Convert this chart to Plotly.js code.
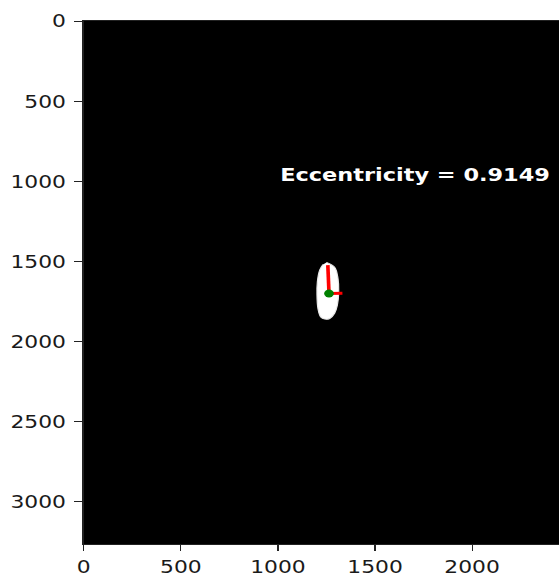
<!DOCTYPE html>
<html>
<head>
<meta charset="utf-8">
<script src="https://cdn.plot.ly/plotly-3.0.1.min.js"></script>
<style>
  html, body { margin: 0; padding: 0; background: #fff; overflow: hidden; }
  #plot { width: 461px; height: 573px; transform: scaleX(1.2126); transform-origin: 0 0; }
</style>
</head>
<body>
<div id="plot"></div>
<script>
// Image size (pixels)
const imgWidth = 2448;
const imgHeight = 3264;

// Blob contour (image pixel coordinates)
const blobX = [1250, 1292, 1309, 1313, 1306, 1292, 1267, 1241, 1220, 1206, 1201, 1203, 1215, 1232];
const blobY = [1506, 1536, 1604, 1690, 1773, 1823, 1856, 1860, 1846, 1793, 1710, 1627, 1554, 1519];

// Centroid
const centroidX = [1263];
const centroidY = [1700];

// Axis segments from centroid
const majorAxisX = [1263, 1257];
const majorAxisY = [1700, 1523];
const minorAxisX = [1263, 1332];
const minorAxisY = [1700, 1698];

// Label
const labelText = "Eccentricity = 0.9149";
const labelX = 1000;
const labelY = 1000;

// Ticks
const xTicks = [0, 500, 1000, 1500, 2000];
const yTicks = [0, 500, 1000, 1500, 2000, 2500, 3000];

const traces = [
  {
    x: blobX, y: blobY, type: 'scatter', mode: 'lines',
    fill: 'toself', fillcolor: '#ffffff',
    line: { color: '#e8e8e8', width: 1, shape: 'spline' },
    hoverinfo: 'skip'
  },
  {
    x: majorAxisX, y: majorAxisY, type: 'scatter', mode: 'lines',
    line: { color: '#ff0000', width: 3 }, hoverinfo: 'skip'
  },
  {
    x: minorAxisX, y: minorAxisY, type: 'scatter', mode: 'lines',
    line: { color: '#ff0000', width: 3 }, hoverinfo: 'skip'
  },
  {
    x: centroidX, y: centroidY, type: 'scatter', mode: 'markers',
    marker: { color: '#008000', size: 8 }, hoverinfo: 'skip'
  }
];

const tickFont = { family: 'DejaVu Sans', size: 18, color: '#1a1a1a' };

const layout = {
  width: 461, height: 573,
  margin: { l: 69, r: 0, t: 21, b: 29, pad: 0 },
  paper_bgcolor: '#ffffff',
  plot_bgcolor: '#000000',
  showlegend: false,
  xaxis: {
    range: [-0.5, imgWidth - 0.5],
    tickvals: xTicks, ticktext: xTicks.map(String),
    ticks: 'outside', ticklen: 6, tickwidth: 1, tickcolor: '#222',
    showgrid: false, zeroline: false,
    showline: true, linecolor: '#222', linewidth: 1, mirror: true,
    tickfont: tickFont, ticklabelstandoff: 0
  },
  yaxis: {
    range: [imgHeight - 0.5, -0.5],
    tickvals: yTicks, ticktext: yTicks.map(String),
    ticks: 'outside', ticklen: 7, tickwidth: 1, tickcolor: '#222',
    showgrid: false, zeroline: false,
    showline: true, linecolor: '#222', linewidth: 1, mirror: true,
    tickfont: tickFont, ticklabelstandoff: 3
  },
  annotations: [{
    x: labelX, y: labelY, xref: 'x', yref: 'y',
    text: labelText, showarrow: false,
    xanchor: 'left', yanchor: 'bottom', yshift: -6,
    font: { family: 'DejaVu Sans', size: 18.5, color: '#ffffff', weight: 'bold' }
  }]
};

Plotly.newPlot('plot', traces, layout, { displayModeBar: false, responsive: false, staticPlot: true });
</script>
</body>
</html>
